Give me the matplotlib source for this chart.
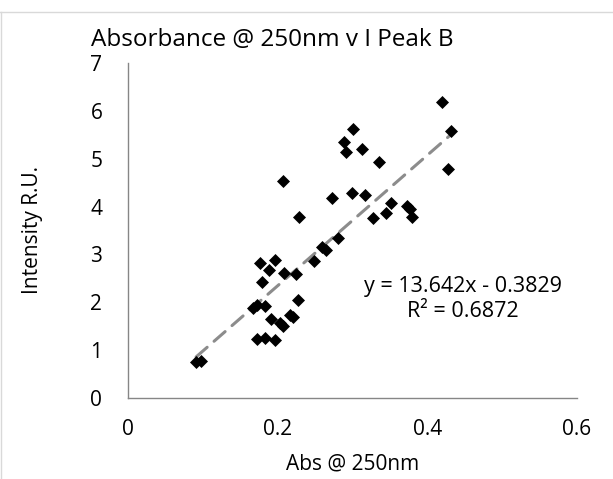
import matplotlib
matplotlib.use("Agg")
import matplotlib.pyplot as plt
from matplotlib.lines import Line2D
import numpy as np

# Abs @ 250nm vs intensity of peak B
abs_250 = [0.091, 0.097, 0.228, 0.176, 0.197, 0.189, 0.179, 0.209, 0.225,
           0.167, 0.173, 0.183, 0.227, 0.191, 0.203, 0.207, 0.220, 0.216,
           0.172, 0.183, 0.196, 0.249, 0.259, 0.265, 0.207, 0.280, 0.272,
           0.299, 0.317, 0.327, 0.351, 0.345, 0.373, 0.377, 0.379, 0.300,
           0.289, 0.291, 0.313, 0.335, 0.420, 0.431, 0.428]
intensity = [0.75, 0.77, 3.78, 2.82, 2.88, 2.67, 2.42, 2.61, 2.59,
             1.88, 1.94, 1.92, 2.05, 1.65, 1.57, 1.50, 1.69, 1.73,
             1.23, 1.25, 1.21, 2.86, 3.15, 3.09, 4.53, 3.34, 4.18,
             4.28, 4.24, 3.76, 4.07, 3.86, 4.01, 3.95, 3.78, 5.62,
             5.34, 5.13, 5.20, 4.93, 6.18, 5.57, 4.78]

slope = 13.642
intercept = -0.3829
r_squared = 0.6872

x_ticks = [0, 0.2, 0.4, 0.6]
y_ticks = [0, 1, 2, 3, 4, 5, 6, 7]

plt.rcParams['font.family'] = ['Open Sans', 'DejaVu Sans']

fig = plt.figure(figsize=(6.13, 4.79), dpi=100)
ax = fig.add_axes([128 / 613, 1 - 398 / 479, 449 / 613, 335 / 479])

ax.scatter(abs_250, intensity, marker='D', s=44, color='black', zorder=3,
           linewidths=0)

# linear trendline over the data range
x_fit = np.array([min(abs_250), max(abs_250)])
ax.plot(x_fit, slope * x_fit + intercept, color='#8c8c8c', lw=2.2,
        dashes=(4.8, 3.0), dash_capstyle='round', zorder=2)

ax.text(0.447, 2.07, f"y = {slope}x - {abs(intercept)}\nR² = {r_squared}",
        ha='center', va='center', fontsize=15.5, linespacing=1.3)

ax.set_xlim(0, 0.6)
ax.set_ylim(0, 7)
ax.set_xticks(x_ticks)
ax.set_xticklabels([f"{t:g}" for t in x_ticks])
ax.set_yticks(y_ticks)
ax.tick_params(length=0, labelsize=15)
ax.tick_params(axis='x', pad=15)
ax.tick_params(axis='y', pad=18.5)

for side in ['top', 'right']:
    ax.spines[side].set_visible(False)
for side in ['left', 'bottom']:
    ax.spines[side].set_color('#868686')
    ax.spines[side].set_linewidth(1.0)

ax.set_xlabel("Abs @ 250nm", fontsize=15, labelpad=10)
ax.set_ylabel("Intensity R.U.", fontsize=15, labelpad=34)
fig.text(272 / 613, 1 - 46 / 479, "Absorbance @ 250nm v I Peak B",
         fontsize=17.5, ha='center', va='baseline')

# light chart-area border (only top and left visible in reference)
fig.add_artist(Line2D([0, 1], [1 - 11.5 / 479] * 2, color='#d9d9d9', lw=1,
                      transform=fig.transFigure))
fig.add_artist(Line2D([0.5 / 613] * 2, [0, 1 - 11.5 / 479], color='#d9d9d9',
                      lw=1, transform=fig.transFigure))

fig.savefig("out.png", dpi=100)
